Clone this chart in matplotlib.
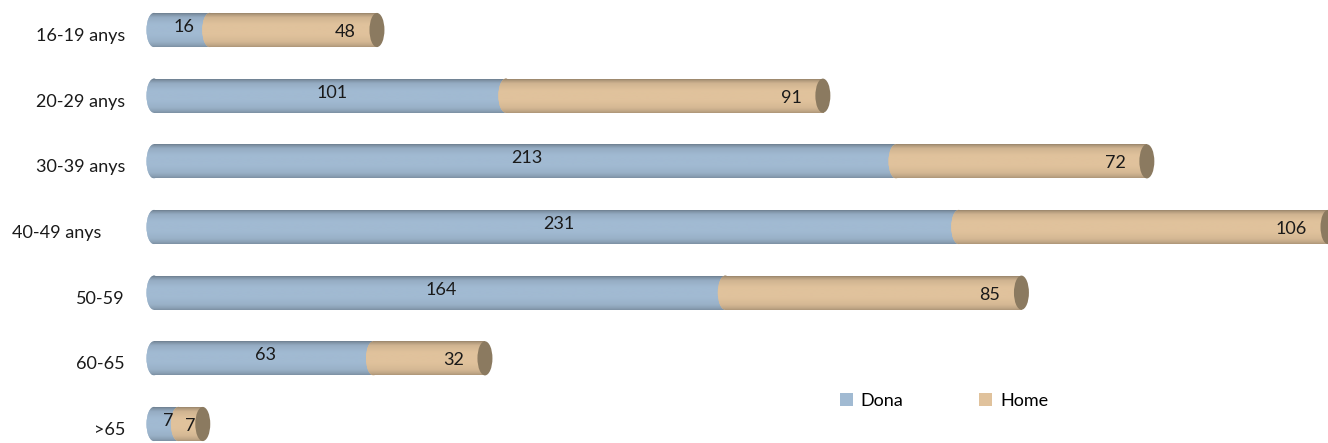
import numpy as np
import matplotlib
matplotlib.use("Agg")
import matplotlib.pyplot as plt
from matplotlib.patches import Ellipse, Patch
from matplotlib.colors import to_rgb

categories = ["16-19 anys", "20-29 anys", "30-39 anys", "40-49 anys     ", "50-59", "60-65", ">65"]
dona = [16, 101, 213, 231, 164, 63, 7]
home = [48, 91, 72, 106, 85, 32, 7]
series_names = ["Dona", "Home"]

C_DONA = "#a1bad2"
C_HOME = "#e0c29c"
C_CAP = "#8b7a60"
TXT = "#1a1a1a"
FS = 13

plt.rcParams['font.family'] = ['Lato', 'DejaVu Sans']

W, H, DPI = 1328, 443, 100
fig = plt.figure(figsize=(W / DPI, H / DPI), dpi=DPI)
ax = fig.add_axes([0, 0, 1, 1])
ax.set_axis_off()

x0_px = 154.0
xmax = 337.0
ppu = (W - x0_px) / xmax
xlim = (-x0_px / ppu, xmax)
row_px = 65.67
ylim = (6 + 19 / row_px, -30 / row_px)

bh = 0.52
ew = 4.3  # ellipse width in data units (end faces of cylinders)

prof_t = np.array([0.0, 0.06, 0.15, 0.35, 0.65, 0.85, 0.95, 1.0])
prof_f = np.array([0.62, 0.78, 0.93, 1.0, 1.0, 0.95, 0.86, 0.78])
tt = np.linspace(0, 1, 64)
ff = np.interp(tt, prof_t, prof_f)


def grad_fill(patch, color, y, z):
    rgb = np.array(to_rgb(color))
    img = np.clip(ff[:, None, None] * rgb[None, None, :], 0, 1)
    img = np.repeat(img, 2, axis=1)
    im = ax.imshow(img, extent=(xlim[0], xlim[1], y + bh / 2, y - bh / 2),
                   aspect='auto', interpolation='bilinear', zorder=z, origin='upper')
    im.set_clip_path(patch)
    return im


ypos = np.arange(len(categories))
bars_d = ax.barh(ypos, dona, left=0, height=bh, color=C_DONA, zorder=1)
bars_h = ax.barh(ypos, home, left=dona, height=bh, color=C_HOME, zorder=3)

for i, y in enumerate(ypos):
    # Dona body + left end
    grad_fill(bars_d[i], C_DONA, y, 1.5)
    e1 = Ellipse((0, y), ew, bh, facecolor=C_DONA, edgecolor='none', zorder=1, clip_on=False)
    ax.add_patch(e1)
    grad_fill(e1, C_DONA, y, 1.6)
    # Home body + left end
    grad_fill(bars_h[i], C_HOME, y, 3.5)
    e2 = Ellipse((dona[i], y), ew, bh, facecolor=C_HOME, edgecolor='none', zorder=3)
    ax.add_patch(e2)
    grad_fill(e2, C_HOME, y, 3.6)
    # end cap
    tot = dona[i] + home[i]
    e3 = Ellipse((tot, y), ew, bh, facecolor=C_CAP, edgecolor='none', zorder=5)
    ax.add_patch(e3)

    # labels
    ax.annotate(str(dona[i]), xy=(dona[i] / 2, y), xytext=(2, 3), textcoords='offset pixels',
                ha='center', va='center', fontsize=FS, color=TXT, zorder=10)
    if home[i] * ppu > 60:
        ax.annotate(str(home[i]), xy=(tot, y), xytext=(-21, -2), textcoords='offset pixels',
                    ha='right', va='center', fontsize=FS, color=TXT, zorder=10)
    else:
        ax.annotate(str(home[i]), xy=(dona[i] + home[i] / 2, y), xytext=(0, -2),
                    textcoords='offset pixels', ha='center', va='center',
                    fontsize=FS, color=TXT, zorder=10)

    ax.annotate(categories[i], xy=(0, y), xytext=(-29, -6), textcoords='offset pixels',
                ha='right', va='center', fontsize=FS, color=TXT)

ax.set_xlim(*xlim)
ax.set_ylim(*ylim)

handles = [Patch(facecolor=C_DONA, edgecolor='none'), Patch(facecolor=C_HOME, edgecolor='none')]
fig.legend(handles, series_names, loc='center left', bbox_to_anchor=(840 / W, 1 - 401 / H),
           ncol=2, frameon=False, fontsize=FS, handlelength=0.7, handleheight=0.7,
           handletextpad=0.45, columnspacing=4.2, borderpad=0, borderaxespad=0)

fig.savefig("out.png", dpi=DPI)
